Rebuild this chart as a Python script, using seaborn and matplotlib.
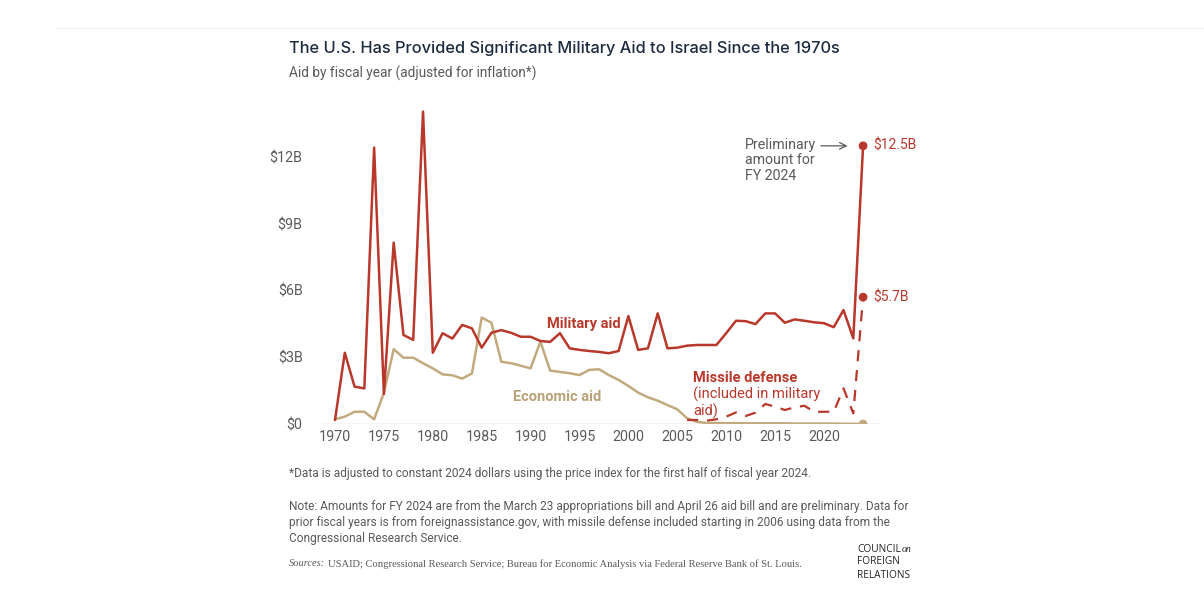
import matplotlib
matplotlib.use("Agg")
import matplotlib.pyplot as plt
import seaborn as sns
import numpy as np
import pandas as pd

# values in billions of 2024 dollars
years = list(range(1970, 2025))
military = [0.18, 3.2, 1.68, 1.6, 12.42, 1.35, 8.15, 4.0, 3.78, 14.04,
            3.2, 4.08, 3.84, 4.45, 4.3, 3.43, 4.1, 4.22, 4.1, 3.92,
            3.92, 3.73, 3.69, 4.08, 3.4, 3.33, 3.28, 3.24, 3.18, 3.28,
            4.85, 3.33, 3.4, 4.97, 3.4, 3.43, 3.52, 3.55, 3.55, 3.55,
            4.08, 4.64, 4.62, 4.49, 4.97, 4.97, 4.55, 4.7, 4.64, 4.57,
            4.53, 4.35, 5.12, 3.85, 12.5]
economic = [0.21, 0.33, 0.55, 0.55, 0.21, 1.4, 3.36, 2.98, 2.98, 2.73,
            2.5, 2.23, 2.19, 2.04, 2.27, 4.78, 4.55, 2.8, 2.73, 2.62,
            2.5, 3.7, 2.4, 2.34, 2.28, 2.2, 2.43, 2.46, 2.2, 1.98,
            1.71, 1.41, 1.2, 1.05, 0.85, 0.66, 0.26, 0.1, 0.04, 0.04,
            0.04, 0.04, 0.03, 0.03, 0.03, 0.03, 0.03, 0.02, 0.02, 0.02,
            0.02, 0.02, 0.01, 0.01, 0.0]
missile_years = list(range(2006, 2025))
missile = [0.18, 0.18, 0.15, 0.21, 0.33, 0.52, 0.36, 0.51, 0.9, 0.78,
           0.63, 0.75, 0.82, 0.55, 0.55, 0.55, 1.6, 0.48, 5.7]

xticks = list(range(1970, 2021, 5))
yticks = [0, 3, 6, 9, 12]
ytick_labels = ["$0", "$3B", "$6B", "$9B", "$12B"]

RED = "#b8382b"
TAN = "#c2aa7e"
TAN_TEXT = "#b9a277"
GRAY = "#5a5a5a"
NAVY = "#1c2b3f"

sns.set_theme(style="white")
plt.rcParams["font.family"] = ["Roboto", "DejaVu Sans"]

fig = plt.figure(figsize=(12.04, 5.96), dpi=100)
ax = fig.add_axes([322 / 1204, 1 - 424 / 596, 558 / 1204, 324 / 596])

sns.lineplot(x=years, y=economic, ax=ax, color=TAN, linewidth=1.8)
sns.lineplot(x=years, y=military, ax=ax, color=RED, linewidth=1.8)
sns.lineplot(x=missile_years, y=missile, ax=ax, color=RED, linewidth=1.6,
             linestyle=(0, (5, 4)))
ax.scatter([years[-1], years[-1], missile_years[-1]],
           [military[-1], economic[-1], missile[-1]],
           color=[RED, TAN, RED], s=28, zorder=5)

ax.set_xlim(1968.67, 2025.73)
ax.set_ylim(0, 14.56)
ax.set_xticks(xticks)
ax.set_xticklabels([str(y) for y in xticks])
ax.set_yticks(yticks)
ax.set_yticklabels(ytick_labels)
ax.tick_params(axis="both", labelsize=10.3, labelcolor=GRAY, length=0)
ax.tick_params(axis="y", pad=14)
ax.tick_params(axis="x", pad=4)
for s in ax.spines.values():
    s.set_visible(False)
ax.axhline(0, color="#c8c8c8", linewidth=1, zorder=0)
ax.set_facecolor("none")

# series labels
ax.text(1991.7, 4.5, "Military aid", color=RED, fontsize=10.5, fontweight="bold",
        va="center", ha="left")
ax.text(1988.2, 1.2, "Economic aid", color=TAN_TEXT, fontsize=10.5,
        fontweight="bold", va="center", ha="left")
ax.text(2006.6, 2.08, "Missile defense", color=RED, fontsize=10.5,
        fontweight="bold", va="center", ha="left")
ax.text(2006.6, 1.32, "(included in military", color=RED, fontsize=10.5,
        va="center", ha="left")
ax.text(2006.6, 0.56, "aid)", color=RED, fontsize=10.5, va="center", ha="left")
ax.text(2025.0, 12.5, "$12.5B", color=RED, fontsize=10, va="center", ha="left")
ax.text(2025.0, 5.7, "$5.7B", color=RED, fontsize=10, va="center", ha="left")
ax.text(2011.9, 12.85, "Preliminary\namount for\nFY 2024", color=GRAY,
        fontsize=10.2, va="top", ha="left", linespacing=1.12)
ax.annotate("", xy=(2022.7, 12.5), xytext=(2019.4, 12.5),
            arrowprops=dict(arrowstyle="->", color=GRAY, lw=0.9))

# title and notes
fig.text(289 / 1204, 1 - 48 / 596, "The U.S. Has Provided Significant Military Aid to Israel Since the 1970s",
         fontsize=11.8, color=NAVY, fontweight="medium", va="center", ha="left",
         family=["Inter", "DejaVu Sans"])
fig.text(289 / 1204, 1 - 73 / 596, "Aid by fiscal year (adjusted for inflation*)",
         fontsize=9.8, color=GRAY, va="center", ha="left")
fig.text(289 / 1204, 1 - 473 / 596,
         "*Data is adjusted to constant 2024 dollars using the price index for the first half of fiscal year 2024.",
         fontsize=8.6, color=GRAY, va="center", ha="left")
fig.text(289 / 1204, 1 - 500 / 596,
         "Note: Amounts for FY 2024 are from the March 23 appropriations bill and April 26 aid bill and are preliminary. Data for\n"
         "prior fiscal years is from foreignassistance.gov, with missile defense included starting in 2006 using data from the\n"
         "Congressional Research Service.",
         fontsize=8.6, color=GRAY, va="top", ha="left", linespacing=1.3)

fig.canvas.draw()
renderer = fig.canvas.get_renderer()
src = fig.text(289 / 1204, 1 - 564 / 596, "Sources:", fontsize=7.5, color=GRAY,
               style="italic", va="center", ha="left",
               family=["Liberation Serif"])
x1 = fig.transFigure.inverted().transform(
    (src.get_window_extent(renderer).x1 + 3, 0))[0]
fig.text(x1, 1 - 564 / 596,
         "USAID; Congressional Research Service; Bureau for Economic Analysis via Federal Reserve Bank of St. Louis.",
         fontsize=7.6, color=GRAY, va="center", ha="left",
         family=["Liberation Serif"])

# council logo
logo_lines = ["COUNCIL", "FOREIGN", "RELATIONS"]
logo_y = [549, 562, 575]
for word, yy in zip(logo_lines, logo_y):
    t = fig.text(857 / 1204, 1 - yy / 596, word, fontsize=7.3, color="#222222",
                 va="center", ha="left", fontweight="medium",
                 family=["Open Sans", "DejaVu Sans"])
    if word == "COUNCIL":
        cx = fig.transFigure.inverted().transform(
            (t.get_window_extent(renderer).x1 + 0.5, 0))[0]
        fig.text(cx, 1 - 550 / 596, "on", fontsize=7, color="#222222",
                 style="italic", va="center", ha="left",
                 family=["Liberation Serif"])

# faint top rule
fig.add_artist(plt.Line2D([55 / 1204, 1], [1 - 28 / 596, 1 - 28 / 596],
                          color="#f1f1f1", linewidth=1))

fig.savefig("out.png", dpi=100)
